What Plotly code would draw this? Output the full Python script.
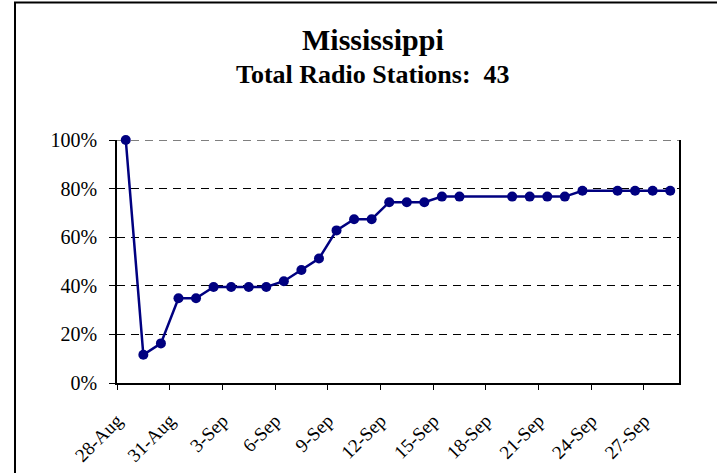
import plotly.graph_objects as go

# Data (share of 43 radio stations operating)
dates = [
    "2005-08-28", "2005-08-29", "2005-08-30", "2005-08-31", "2005-09-01",
    "2005-09-02", "2005-09-03", "2005-09-04", "2005-09-05", "2005-09-06",
    "2005-09-07", "2005-09-08", "2005-09-09", "2005-09-10", "2005-09-11",
    "2005-09-12", "2005-09-13", "2005-09-14", "2005-09-15", "2005-09-16",
    "2005-09-19", "2005-09-20", "2005-09-21", "2005-09-22", "2005-09-23",
    "2005-09-25", "2005-09-26", "2005-09-27", "2005-09-28",
]
share = [
    1.000, 0.116, 0.163, 0.349, 0.349,
    0.395, 0.395, 0.395, 0.395, 0.419,
    0.465, 0.512, 0.628, 0.674, 0.674,
    0.744, 0.744, 0.744, 0.767, 0.767,
    0.767, 0.767, 0.767, 0.767, 0.791,
    0.791, 0.791, 0.791, 0.791,
]
tick_dates = ["2005-08-28", "2005-08-31", "2005-09-03", "2005-09-06", "2005-09-09",
              "2005-09-12", "2005-09-15", "2005-09-18", "2005-09-21", "2005-09-24",
              "2005-09-27"]
tick_labels = ["28-Aug", "31-Aug", "3-Sep", "6-Sep", "9-Sep", "12-Sep", "15-Sep",
               "18-Sep", "21-Sep", "24-Sep", "27-Sep"]
y_ticks = [0, 0.2, 0.4, 0.6, 0.8, 1.0]

title = "Mississippi"
subtitle = "Total Radio Stations:\u00a0 43"

# points sit in the middle of each day
x_mid = [d + " 12:00" for d in dates]

FONT = "Liberation Serif, Times New Roman, serif"

fig = go.Figure()
fig.add_trace(go.Scatter(
    x=x_mid, y=share, mode="lines+markers",
    line=dict(color="#000080", width=2.5),
    marker=dict(color="#000080", size=10),
    cliponaxis=False,
    hoverinfo="x+y",
))

fig.update_layout(
    width=717, height=473,
    margin=dict(l=117, r=38, t=140, b=90, autoexpand=False),
    paper_bgcolor="white", plot_bgcolor="white",
    showlegend=False,
    font=dict(family=FONT, size=19, color="black"),
    xaxis=dict(
        type="date",
        range=["2005-08-28", "2005-09-29"],
        tickmode="array", tickvals=tick_dates, ticktext=tick_labels,
        tickangle=-45, automargin=False,
        ticks="outside", ticklen=5, tickcolor="black", tickwidth=1,
        showline=True, linecolor="black", linewidth=2,
        showgrid=False, zeroline=False,
        tickfont=dict(family=FONT, size=19, color="black"),
        ticklabelstandoff=12,
    ),
    yaxis=dict(
        range=[0, 1.0], automargin=False,
        tickmode="array", tickvals=y_ticks, tickformat=".0%",
        ticks="outside", ticklen=6, tickcolor="black", tickwidth=1,
        showline=True, linecolor="black", linewidth=1.5, mirror=True,
        showgrid=True, gridcolor="black", gridwidth=1, griddash="8px,6px",
        zeroline=False,
        tickfont=dict(family=FONT, size=20, color="black"),
        ticklabelstandoff=8,
    ),
    annotations=[
        dict(text="<b>" + title + "</b>", xref="paper", yref="paper",
             x=0.4555, y=1.57, yanchor="top", xanchor="center", showarrow=False,
             yshift=-20, font=dict(family=FONT, size=30, color="black")),
        dict(text="<b>" + subtitle + "</b>", xref="paper", yref="paper",
             x=0.4555, y=1.57, yanchor="top", xanchor="center", showarrow=False,
             yshift=-57, font=dict(family=FONT, size=26, color="black")),
    ],
    shapes=[
        dict(type="rect", xref="paper", yref="paper",
             x0=-0.1815, x1=2.0, y0=-1.0, y1=1.566,
             line=dict(color="black", width=2), fillcolor="rgba(0,0,0,0)"),
        dict(type="line", xref="paper", yref="y", x0=0, x1=1, y0=1.0, y1=1.0,
             layer="below",
             line=dict(color="black", width=1, dash="8px,6px")),
    ],
)

fig.write_html("out.html", config={"displayModeBar": False},
               post_script="document.body.style.margin='0';")
